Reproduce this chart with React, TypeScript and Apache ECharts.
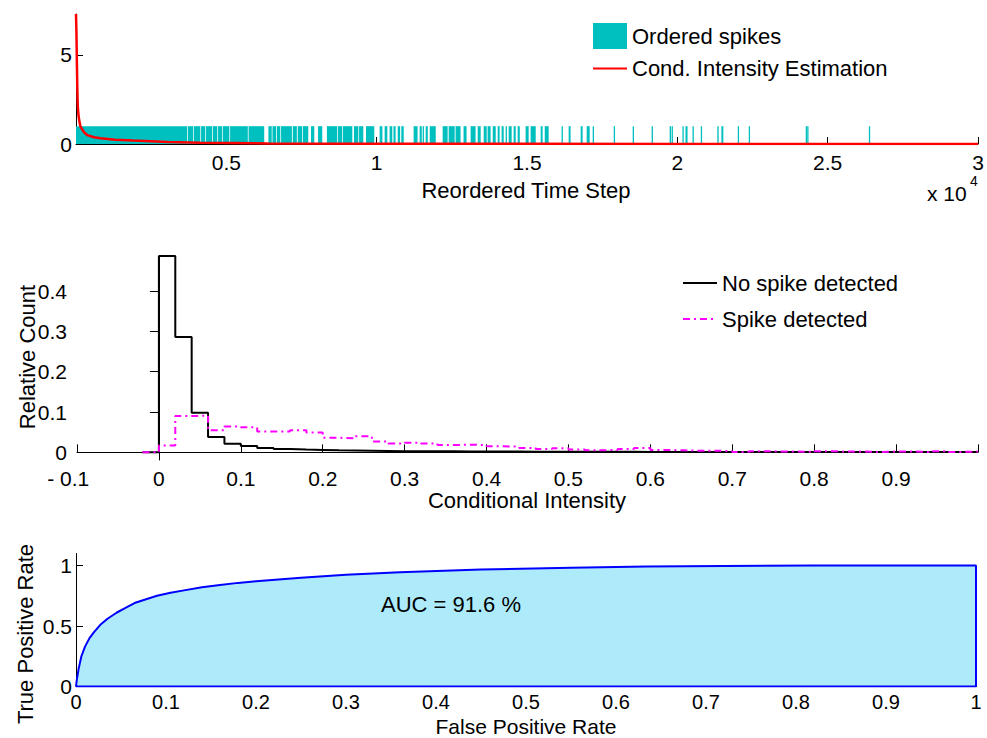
import React, { useEffect, useRef } from "react";
import * as echarts from "echarts";

// ---------- Top panel: ordered spikes (spans in time steps) ----------
const spikeSpans: [number, number][] = [
  [0, 3700], [3725, 3900], [3925, 4135], [4160, 4300], [4325, 4530], [4555, 4700],
  [4725, 4865], [4890, 5100], [5125, 5715], [5740, 6260], [6400, 6510], [6535, 6660],
  [6685, 6795], [6820, 7180], [7210, 7345], [7375, 7525], [7550, 7725], [7815, 7925],
  [8050, 8190], [8345, 8690], [8715, 8855], [8880, 9190], [9245, 9390], [9415, 9555],
  [9645, 9920], [10098, 10138],
  [10130, 10190], [10265, 10355], [10430, 10520], [10560, 10630], [10700, 10780],
  [10820, 10900], [11230, 11360], [11430, 11500], [11530, 11560], [11630, 11700],
  [11765, 11965], [12195, 12360], [12395, 12595], [12625, 12790], [12890, 12990],
  [13125, 13290], [13360, 13460], [13560, 13660], [13690, 13790], [13860, 13960],
  [14025, 14090], [14155, 14225], [14290, 14325], [14390, 14490], [14555, 14625],
  [14690, 14760], [14955, 15055], [15120, 15290], [15455, 15520], [15590, 15720],
  [16150, 16185], [16385, 16450], [16785, 16850], [16985, 17085], [17185, 17215],
  [17885, 17925], [18515, 18555], [19145, 19185], [19745, 19790], [19810, 19845],
  [20170, 20210], [20270, 20340], [20505, 20545], [20780, 20820], [21330, 21375],
  [21465, 21530], [22010, 22050], [22375, 22415], [24270, 24300], [24320, 24350],
  [26370, 26410],
];

const intensitySteps = [0, 15, 30, 45, 60, 83, 120, 150, 250, 373, 600, 815, 1300, 1913, 3040, 4140, 6370, 10000, 15000, 20000, 25000, 30000];
const intensityValues = [7.3, 6.2, 4.5, 3.0, 2.1, 1.6, 1.2, 0.97, 0.7, 0.5, 0.38, 0.32, 0.24, 0.19, 0.11, 0.07, 0.03, 0.015, 0.008, 0.005, 0.004, 0.003];

// ---------- Middle panel: histograms ----------
const binEdges = [
  -0.02, 0, 0.02, 0.04, 0.06, 0.08, 0.1, 0.12, 0.14, 0.16, 0.18, 0.2, 0.22, 0.24, 0.26,
  0.28, 0.3, 0.32, 0.34, 0.36, 0.38, 0.4, 0.42, 0.44, 0.46, 0.48, 0.5, 0.52, 0.54, 0.56,
  0.58, 0.6, 0.62, 0.64, 0.66, 0.68, 0.7, 0.72, 0.74, 0.76, 0.78, 0.8, 0.82, 0.84, 0.86,
  0.88, 0.9, 0.92, 0.94, 0.96, 0.98, 1.0,
];
const noSpikeCounts = [
  0, 0.487, 0.286, 0.098, 0.038, 0.021, 0.016, 0.011, 0.0085, 0.007, 0.006, 0.005, 0.0045,
  0.004, 0.0035, 0.003, 0.003, 0.0025, 0.0025, 0.002, 0.002, 0.002, 0.0018, 0.0016, 0.0015,
  0.0015, 0.0014, 0.0013, 0.0012, 0.0012, 0.0011, 0.0011, 0.001, 0.001, 0.001, 0.001,
  0.0009, 0.0009, 0.0009, 0.0009, 0.0009, 0.0008, 0.0008, 0.0008, 0.0008, 0.0008, 0.0008,
  0.0008, 0.0008, 0.0008, 0.0008,
];
const spikeCounts = [
  0, 0.017, 0.09, 0.091, 0.055, 0.064, 0.062, 0.052, 0.052, 0.055, 0.049, 0.036, 0.035,
  0.04, 0.027, 0.022, 0.024, 0.022, 0.018, 0.019, 0.018, 0.015, 0.014, 0.011, 0.008, 0.01,
  0.007, 0.005, 0.006, 0.008, 0.011, 0.006, 0.005, 0.004, 0.004, 0.003, 0.001, 0.003,
  0.002, 0.002, 0.001, 0.003, 0.002, 0.002, 0.001, 0.002, 0.002, 0.001, 0.003, 0.001, 0.002,
];

// ---------- Bottom panel: ROC ----------
const rocFpr = [0, 0.001, 0.003, 0.006, 0.01, 0.015, 0.02, 0.027, 0.035, 0.045, 0.055, 0.065, 0.077, 0.09, 0.105, 0.12, 0.14, 0.16, 0.18, 0.2, 0.25, 0.3, 0.36, 0.45, 0.55, 0.634, 0.72, 0.819, 1, 1, 0];
const rocTpr = [0, 0.06, 0.15, 0.25, 0.33, 0.4, 0.45, 0.51, 0.56, 0.61, 0.65, 0.69, 0.72, 0.75, 0.775, 0.795, 0.82, 0.84, 0.857, 0.87, 0.9, 0.925, 0.945, 0.968, 0.982, 0.992, 0.996, 1.0, 1.0, 0, 0];
const aucText = "AUC = 91.6 %";

const FONT = '"Liberation Sans", Arial, Helvetica, sans-serif';
const FS = 21;
const FT = 22;

function stairs(edges: number[], vals: number[]) {
  const d: number[][] = vals.map((v, i) => [edges[i], v]);
  d.push([edges[edges.length - 1], vals[vals.length - 1]]);
  return d;
}

function fmt1(v: number) {
  return String(Math.round(v * 10) / 10);
}

export default function App() {
  const ref = useRef<HTMLDivElement>(null);
  useEffect(() => {
    if (!ref.current) return;
    const chart = echarts.init(ref.current, null, { renderer: "svg" });
    const axisLine = { show: true, lineStyle: { color: "#000", width: 1 } };
    const label = (extra: any) => ({ color: "#000", fontSize: FS, fontFamily: FONT, ...extra });
    const title = (text: string, x: number, y: number, rot = 0, fs = FT) => ({
      type: "text",
      x,
      y,
      z: 100,
      rotation: rot,
      style: { text, fill: "#000", font: `${fs}px ${FONT}`, align: "center", verticalAlign: "middle" },
    });
    const hideSym = { opacity: 0 };
    const option: any = {
      animation: false,
      backgroundColor: "#fff",
      grid: [
        { left: 76, top: 14, width: 902, height: 130 },
        { left: 77, top: 256, width: 901, height: 204 },
        { left: 76, top: 553.5, width: 900, height: 133 },
      ],
      xAxis: [
        {
          type: "value", gridIndex: 0, min: 0, max: 30000, interval: 5000,
          axisLine, splitLine: { show: false },
          axisTick: { show: true, inside: true, length: 7, lineStyle: { color: "#000" } },
          axisLabel: label({ margin: 8, formatter: (v: number) => (v === 0 ? "" : String(v / 10000)) }),
        },
        {
          type: "value", gridIndex: 1, min: -0.1, max: 1.0, interval: 0.1,
          axisLine, splitLine: { show: false },
          axisTick: { show: true, inside: true, length: 8, lineStyle: { color: "#000" } },
          axisLabel: label({
            margin: 8,
            formatter: (v: number) => {
              if (Math.abs(v + 0.1) < 1e-9) return "- 0.1   ";
              if (Math.abs(v - 1) < 1e-9) return "";
              return fmt1(v);
            },
          }),
        },
        {
          type: "value", gridIndex: 2, min: 0, max: 1, interval: 0.1,
          axisLine, splitLine: { show: false },
          axisTick: { show: true, inside: true, length: 7, lineStyle: { color: "#000" } },
          axisLabel: label({ margin: 5, fontSize: 20, formatter: (v: number) => fmt1(v) }),
        },
      ],
      yAxis: [
        {
          type: "value", gridIndex: 0, min: 0, max: 7.3,
          axisLine, splitLine: { show: false },
          axisTick: { show: true, inside: true, length: 7, lineStyle: { color: "#000" }, customValues: [0, 5] },
          axisLabel: label({ margin: 4, customValues: [0, 5], formatter: (v: number) => String(v) }),
        },
        {
          type: "value", gridIndex: 1, min: -0.019, max: 0.487,
          axisLine, splitLine: { show: false },
          axisTick: { show: true, inside: false, length: 9, lineStyle: { color: "#000" }, customValues: [0, 0.1, 0.2, 0.3, 0.4] },
          axisLabel: label({ margin: 10, customValues: [0, 0.1, 0.2, 0.3, 0.4], formatter: (v: number) => fmt1(v) }),
        },
        {
          type: "value", gridIndex: 2, min: 0, max: 1.1,
          axisLine, splitLine: { show: false },
          axisTick: { show: true, inside: true, length: 7, lineStyle: { color: "#000" }, customValues: [0, 0.5, 1] },
          axisLabel: label({ margin: 4, customValues: [0, 0.5, 1], formatter: (v: number) => fmt1(v) }),
        },
      ],
      legend: [
        {
          orient: "vertical", left: 592, top: 23, padding: 0, itemWidth: 34, itemHeight: 26, itemGap: 8.5,
          selectedMode: false,
          textStyle: { color: "#000", fontSize: FT, fontFamily: FONT },
          data: [
            { name: "Ordered spikes", icon: "rect" },
            { name: "Cond. Intensity Estimation", itemStyle: hideSym },
          ],
        },
        {
          orient: "vertical", left: 682, top: 272, padding: 0, itemWidth: 34, itemHeight: 20, itemGap: 14,
          selectedMode: false,
          textStyle: { color: "#000", fontSize: FT, fontFamily: FONT },
          data: [
            { name: "No spike detected", itemStyle: hideSym },
            { name: "Spike detected", itemStyle: hideSym },
          ],
        },
      ],
      series: [
        {
          name: "Ordered spikes",
          type: "custom",
          xAxisIndex: 0, yAxisIndex: 0,
          itemStyle: { color: "#00BFBF" },
          encode: { x: [0, 1], y: 0 },
          data: spikeSpans,
          renderItem: (params: any, api: any) => {
            const p0 = api.coord([api.value(0), 1]);
            const p1 = api.coord([api.value(1), 0]);
            const w = Math.max(p1[0] - p0[0], 1.3);
            return {
              type: "rect",
              shape: { x: p0[0], y: p0[1], width: w, height: p1[1] - p0[1] },
              style: { fill: "#00BFBF" },
            };
          },
        },
        {
          name: "Cond. Intensity Estimation",
          type: "line",
          xAxisIndex: 0, yAxisIndex: 0,
          symbol: "none",
          color: "#FF0000",
          lineStyle: { color: "#FF0000", width: 2.5 },
          data: intensitySteps.map((s, i) => [s, intensityValues[i]]),
        },
        {
          name: "No spike detected",
          type: "line",
          xAxisIndex: 1, yAxisIndex: 1,
          step: "end",
          symbol: "none",
          color: "#000",
          lineStyle: { color: "#000", width: 2 },
          data: stairs(binEdges, noSpikeCounts),
        },
        {
          name: "Spike detected",
          type: "line",
          xAxisIndex: 1, yAxisIndex: 1,
          step: "end",
          symbol: "none",
          color: "#FF00FF",
          lineStyle: { color: "#FF00FF", width: 2, type: [7, 4, 2, 4] },
          data: stairs(binEdges, spikeCounts),
        },
        {
          name: "ROC",
          type: "line",
          xAxisIndex: 2, yAxisIndex: 2,
          symbol: "none",
          color: "#0000FF",
          lineStyle: { color: "#0000FF", width: 2 },
          areaStyle: { color: "#ADEBFB", opacity: 1 },
          data: rocFpr.map((f, i) => [f, rocTpr[i]]),
        },
      ],
      graphic: [
        title("Reordered Time Step", 526, 190),
        {
          type: "text", x: 927, y: 193, z: 100,
          style: { text: "x 10", fill: "#000", font: `${FS}px ${FONT}`, align: "left", verticalAlign: "middle" },
        },
        {
          type: "text", x: 970, y: 181, z: 100,
          style: { text: "4", fill: "#000", font: `14px ${FONT}`, align: "left", verticalAlign: "middle" },
        },
        title("Conditional Intensity", 527, 500.5),
        title("Relative Count", 27, 357, Math.PI / 2),
        title("False Positive Rate", 526, 726, 0, 21),
        title("True Positive Rate", 25, 634, Math.PI / 2),
        title(aucText, 451, 604),
      ],
    };
    chart.setOption(option);
    return () => chart.dispose();
  }, []);
  return (
    <div
      ref={ref}
      style={{ position: "fixed", left: 0, top: 0, width: 987, height: 738, background: "#fff" }}
    />
  );
}
